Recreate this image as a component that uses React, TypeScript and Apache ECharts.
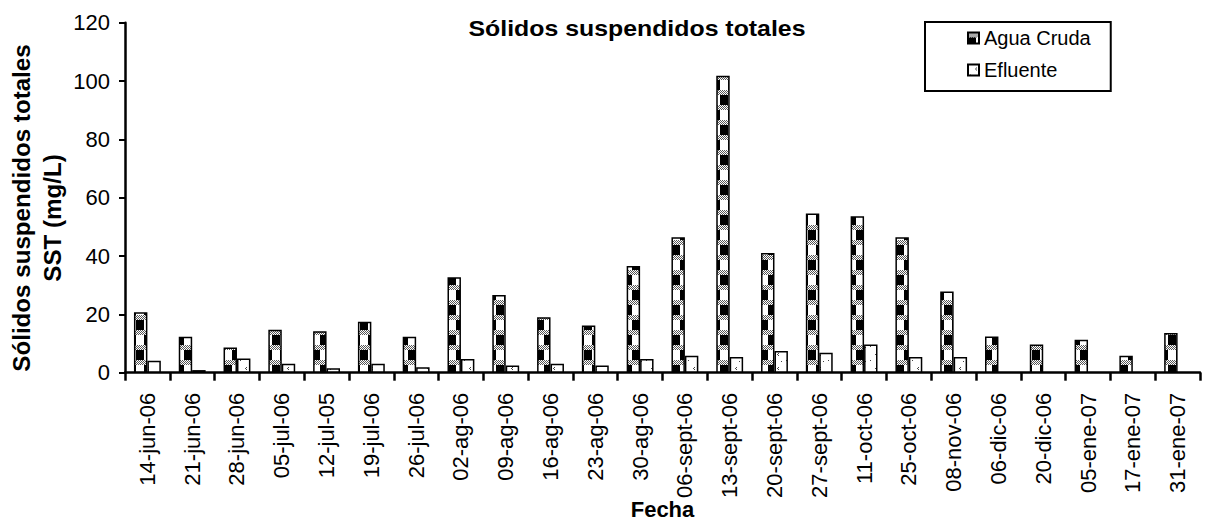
import React, { useEffect, useRef } from "react";
import * as echarts from "echarts";

const categories = [
  "14-jun-06", "21-jun-06", "28-jun-06", "05-jul-06", "12-jul-05", "19-jul-06",
  "26-jul-06", "02-ag-06", "09-ag-06", "16-ag-06", "23-ag-06", "30-ag-06",
  "06-sept-06", "13-sept-06", "20-sept-06", "27-sept-06", "11-oct-06", "25-oct-06",
  "08-nov-06", "06-dic-06", "20-dic-06", "05-ene-07", "17-ene-07", "31-ene-07",
];
const aguaCruda = [
  20.7, 12.3, 8.6, 14.7, 14.2, 17.5, 12.3, 32.7, 26.6, 19.0, 16.2, 36.6,
  46.4, 101.8, 41.0, 54.6, 53.6, 46.4, 27.8, 12.4, 9.7, 11.3, 5.8, 13.6,
];
const efluente: (number | null)[] = [
  4.1, 0.9, 4.9, 3.1, 1.5, 3.1, 1.9, 4.7, 2.5, 3.1, 2.5, 4.7,
  5.8, 5.4, 7.4, 6.8, 9.7, 5.4, 5.4, null, null, null, null, null,
];
const yTicks = { min: 0, max: 120, interval: 20 };
const seriesNames = ["Agua Cruda", "Efluente"];
const titleText = "Sólidos suspendidos totales";
const yNameLines = ["Sólidos suspendidos totales", "SST (mg/L)"];
const xName = "Fecha";

const FONT = "'Liberation Sans', Arial, sans-serif";

function makeAguaPattern(): HTMLCanvasElement {
  const c = document.createElement("canvas");
  c.width = 16;
  c.height = 30;
  const g = c.getContext("2d")!;
  g.fillStyle = "#fff";
  g.fillRect(0, 0, 16, 30);
  g.fillStyle = "#000";
  g.fillRect(0, 5, 8, 10);
  g.fillRect(8, 20, 8, 10);
  const band = (y0: number) => {
    g.fillStyle = "#fff";
    g.fillRect(0, y0, 16, 5);
    g.fillStyle = "#555";
    for (let y = y0; y < y0 + 5; y++) {
      for (let x = 0; x < 16; x++) {
        if ((x + y) % 2 === 0) g.fillRect(x, y, 1, 1);
      }
    }
  };
  band(0);
  band(15);
  return c;
}

function makeEflPattern(): HTMLCanvasElement {
  const c = document.createElement("canvas");
  c.width = 14;
  c.height = 14;
  const g = c.getContext("2d")!;
  g.fillStyle = "#fff";
  g.fillRect(0, 0, 14, 14);
  g.fillStyle = "#444";
  g.fillRect(8, 3, 1, 1);
  g.fillRect(7, 4, 1, 1);
  g.fillRect(8, 5, 1, 1);
  g.fillRect(2, 10, 1, 1);
  g.fillRect(11, 11, 1, 1);
  return c;
}

export default function App() {
  const ref = useRef<HTMLDivElement>(null);

  useEffect(() => {
    document.body.style.margin = "0";
    if (!ref.current) return;
    const chart = echarts.init(ref.current, undefined, { renderer: "svg" });
    const aguaFill: any = { image: makeAguaPattern(), repeat: "repeat", imageWidth: 16, imageHeight: 30 };
    const eflFill: any = { image: makeEflPattern(), repeat: "repeat", imageWidth: 14, imageHeight: 14 };

    const gridLeft = 125;
    const gridRight = 8;
    const gridTop = 22.7;
    const gridBottom = 149.3;
    const xCenter = (gridLeft + (1208 - gridRight)) / 2;

    const boldText = (text: string, x: number, y: number, size: number, rot = 0, sx = 1) => ({
      type: "text",
      x,
      y,
      rotation: rot,
      scaleX: sx,
      style: {
        text,
        fontFamily: FONT,
        fontSize: size,
        fontWeight: "bold",
        fill: "#000",
        align: "center",
        verticalAlign: "middle",
      },
    });

    chart.setOption({
      animation: false,
      backgroundColor: "#fff",
      textStyle: { fontFamily: FONT },
      grid: { left: gridLeft, right: gridRight, top: gridTop, bottom: gridBottom, containLabel: false },
      legend: {
        orient: "vertical",
        left: 925,
        top: 22,
        data: seriesNames,
        backgroundColor: "#fff",
        borderColor: "#000",
        borderWidth: 2,
        borderRadius: 0,
        padding: [6, 20, 11, 42],
        itemWidth: 11,
        itemHeight: 11,
        itemGap: 12,
        icon: "rect",
        textStyle: { fontFamily: FONT, fontSize: 20, color: "#000" },
        selectedMode: false,
      },
      xAxis: {
        type: "category",
        data: categories,
        boundaryGap: true,
        axisLine: { show: true, lineStyle: { color: "#000", width: 2.5 } },
        axisTick: { show: true, alignWithLabel: false, length: 8, lineStyle: { color: "#000", width: 2.5 } },
        axisLabel: {
          interval: 0,
          rotate: 90,
          fontSize: 22,
          color: "#000",
          fontFamily: FONT,
          margin: 20,
        },
        splitLine: { show: false },
      },
      yAxis: {
        type: "value",
        min: yTicks.min,
        max: yTicks.max,
        interval: yTicks.interval,
        axisLine: { show: true, lineStyle: { color: "#000", width: 2.5 } },
        axisTick: { show: true, length: 6, lineStyle: { color: "#000", width: 2 } },
        axisLabel: { fontSize: 22, color: "#000", fontFamily: FONT, margin: 15 },
        splitLine: { show: false },
      },
      series: [
        {
          name: seriesNames[0],
          type: "bar",
          data: aguaCruda,
          barGap: "0%",
          barCategoryGap: "40%",
          itemStyle: { color: aguaFill, borderColor: "#000", borderWidth: 1.5 },
        },
        {
          name: seriesNames[1],
          type: "bar",
          data: efluente,
          barGap: "0%",
          barCategoryGap: "40%",
          itemStyle: { color: eflFill, borderColor: "#000", borderWidth: 1.5 },
        },
      ],
      graphic: [
        boldText(titleText, 637, 29, 22, 0, 1.13),
        boldText(yNameLines[0], 22, 208, 23, Math.PI / 2, 1.05),
        boldText(yNameLines[1], 53, 218, 23, Math.PI / 2, 1.05),
        boldText(xName, xCenter, 509, 22),
      ],
    });
    return () => chart.dispose();
  }, []);

  return <div ref={ref} style={{ width: 1208, height: 522 }} />;
}
